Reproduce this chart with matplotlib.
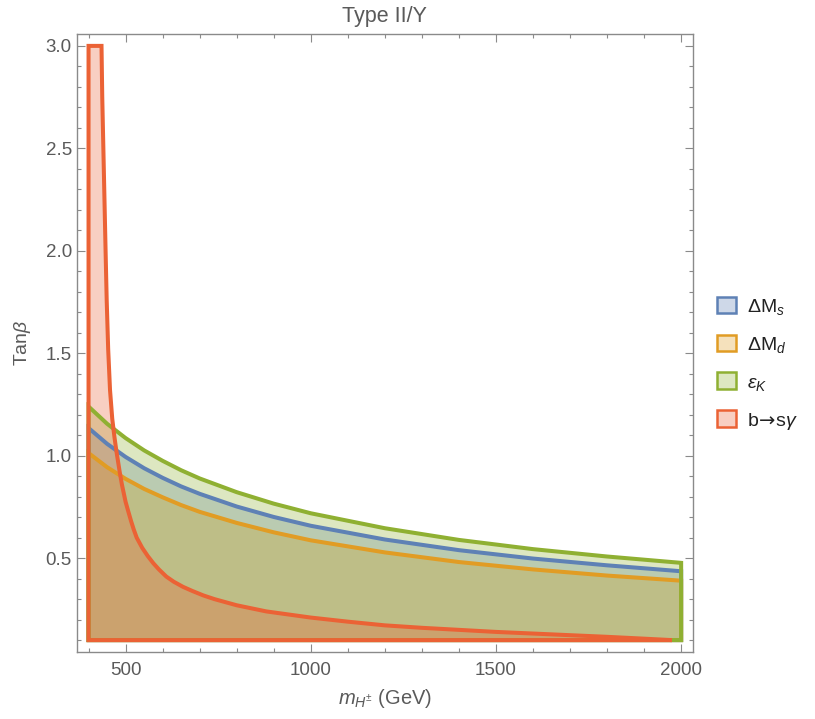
import matplotlib
matplotlib.use("Agg")
import matplotlib.pyplot as plt
from matplotlib.patches import Polygon, Patch
from matplotlib.ticker import MultipleLocator

plt.rcParams['font.family'] = ['Liberation Sans', 'DejaVu Sans']
plt.rcParams['mathtext.fontset'] = 'custom'
plt.rcParams['mathtext.rm'] = 'Liberation Sans'
plt.rcParams['mathtext.it'] = 'Liberation Sans:italic'
plt.rcParams['mathtext.sf'] = 'DejaVu Sans'

# upper boundaries (m_H in GeV, tan beta)
m_grid = [400, 450, 500, 550, 600, 650, 700, 800, 900, 1000, 1200, 1400, 1600, 1800, 2000]
dms_top = [1.135, 1.058, 0.994, 0.939, 0.892, 0.850, 0.814, 0.752, 0.701, 0.658,
           0.591, 0.539, 0.498, 0.465, 0.436]
dmd_top = [1.013, 0.944, 0.887, 0.838, 0.797, 0.759, 0.726, 0.672, 0.626, 0.587,
           0.528, 0.481, 0.445, 0.415, 0.390]
epsk_top = [1.240, 1.156, 1.086, 1.026, 0.975, 0.929, 0.889, 0.822, 0.766, 0.719,
            0.646, 0.589, 0.544, 0.508, 0.477]

bsg_m = [400, 435, 437, 440, 443, 446, 449, 453, 458, 464, 470, 475, 480, 484, 490,
         500, 507, 515, 522, 530, 545, 560, 575, 590, 610, 630, 655, 680, 710, 740,
         770, 800, 840, 880, 940, 1000, 1100, 1200, 1300, 1400, 1500, 1600, 1700,
         1800, 1900, 1975]
bsg_top = [3.0, 3.0, 2.75, 2.5, 2.25, 2.0, 1.76, 1.52, 1.32, 1.18, 1.09, 1.025, 0.968,
           0.922, 0.86, 0.775, 0.73, 0.68, 0.64, 0.6, 0.55, 0.51, 0.475, 0.445, 0.41,
           0.385, 0.36, 0.34, 0.318, 0.3, 0.285, 0.27, 0.255, 0.24, 0.225, 0.21, 0.19,
           0.172, 0.16, 0.15, 0.14, 0.132, 0.124, 0.116, 0.107, 0.1]

y_floor = 0.1
labels = [r'$\mathrm{\Delta M}_s$', r'$\mathrm{\Delta M}_d$', r'$\epsilon_K$',
          r'$\mathrm{b}\!\mathsf{\rightarrow}\!\mathrm{s}\gamma$']
colors = ['#5E81B5', '#E19C24', '#8FB032', '#EB6235']

fig = plt.figure(figsize=(8.15, 7.19), dpi=100)
ax = fig.add_axes([0.0941, 0.0932, 0.7562, 0.8595])

def outline(xs, ys, closed_right=True):
    pts = [(xs[0], y_floor)] + list(zip(xs, ys))
    if closed_right:
        pts.append((xs[-1], y_floor))
    return pts

shapes = [outline(m_grid, dms_top), outline(m_grid, dmd_top),
          outline(m_grid, epsk_top), outline(bsg_m, bsg_top, closed_right=False)]

# fills first, then the boundary lines on top
for pts, col in zip(shapes, colors):
    ax.add_patch(Polygon(pts, closed=True, facecolor=matplotlib.colors.to_rgba(col, 0.3),
                         edgecolor='none'))
for pts, col in zip(shapes, colors):
    ax.add_patch(Polygon(pts, closed=True, facecolor='none', edgecolor=col,
                         linewidth=2.9, joinstyle='miter'))

ax.set_xlim(368, 2032)
ax.set_ylim(0.042, 3.058)

frame_c = '#8a8a8a'
text_c = '#5a5a5a'
for s in ax.spines.values():
    s.set_color(frame_c)
    s.set_linewidth(1.0)

ax.xaxis.set_major_locator(MultipleLocator(500))
ax.xaxis.set_minor_locator(MultipleLocator(100))
ax.yaxis.set_major_locator(MultipleLocator(0.5))
ax.yaxis.set_minor_locator(MultipleLocator(0.1))
ax.tick_params(which='both', direction='in', top=True, right=True, color=frame_c,
               labelcolor=text_c, labelsize=13.5, width=0.8)
ax.tick_params(which='major', length=6)
ax.tick_params(which='minor', length=3)
ax.tick_params(axis='x', pad=7)
ax.yaxis.set_major_formatter(matplotlib.ticker.FormatStrFormatter('%.1f'))

ax.set_title('Type II/Y', fontsize=15.5, color=text_c, pad=9)
ax.set_xlabel(r'$m_{H^{\pm}}$ (GeV)', fontsize=14.5, color=text_c, labelpad=6)
ax.set_ylabel(r'Tan$\beta$', fontsize=14, color=text_c, labelpad=9)

handles = [Patch(facecolor=matplotlib.colors.to_rgba(c, 0.3), edgecolor=c, linewidth=1.8)
           for c in colors]
fig.legend(handles, labels, loc='center left', bbox_to_anchor=(0.8798, 0.4937),
           frameon=False, fontsize=14, handlelength=0.95, handleheight=0.95,
           handletextpad=0.6, labelspacing=0.92, borderpad=0, borderaxespad=0,
           labelcolor='#222222')

fig.savefig('out.png', dpi=100)
